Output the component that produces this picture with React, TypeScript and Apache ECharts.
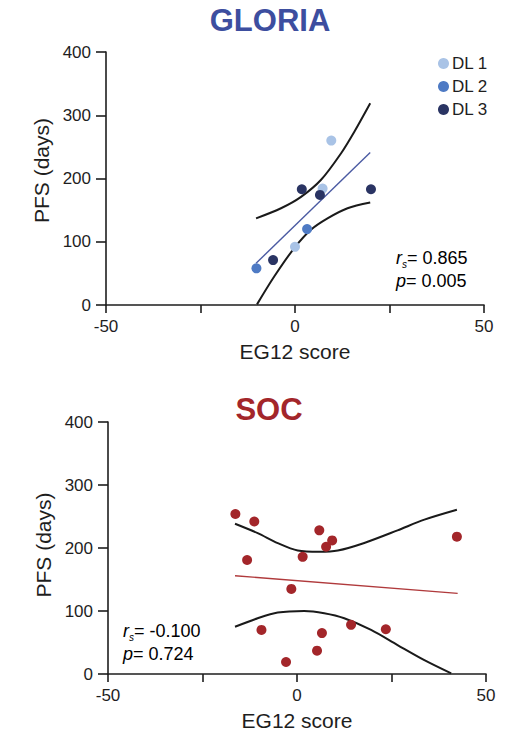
import React, { useEffect, useRef } from "react";
import * as echarts from "echarts";

// GLORIA data (EG12 score, PFS days)
const dl1X = [9.6, 7.3, 0];
const dl1Y = [260, 184, 92];
const dl2X = [-10.2, 3.2];
const dl2Y = [58, 120];
const dl3X = [-5.8, 1.8, 6.6, 20.1];
const dl3Y = [71, 183, 174, 183];
const gRegX = [-10.3, 19.9];
const gRegY = [66, 241];
const gUpX = [-10.3, -3.7, 1.6, 6.9, 12.2, 15.7, 19.9];
const gUpY = [137, 153, 171, 198, 240, 274, 319];
const gLoX = [-10.05, -5.5, -0.2, 4.2, 8.6, 13.9, 19.9];
const gLoY = [1, 45, 90, 119, 137, 153, 162];

// SOC data
const socX = [-16.3, -11.3, -13.2, -9.4, -2.9, -1.5, 1.5, 5.9, 7.7, 9.3, 6.6, 5.3, 14.3, 23.5, 42.3];
const socY = [254, 242, 181, 70, 19, 135, 186, 228, 202, 212, 65, 37, 78, 71, 218];
const sRegX = [-16.4, 42.5];
const sRegY = [156, 128];
const sUpX = [-16.4, -10.4, -5.1, 0.2, 5.9, 10.8, 17.8, 26.6, 33.7, 42.3];
const sUpY = [238.5, 223.6, 207.8, 196, 194, 196, 208, 228, 245, 260.7];
const sLoX = [-16.4, -10.4, -5.1, 1.9, 7.2, 12.5, 19.6, 26.6, 33.7, 40.8];
const sLoY = [75, 88.5, 97.5, 100, 96.5, 88.5, 70, 46, 22, 1];

const xTicks = [-50, 0, 50];
const legendNames = ["DL 1", "DL 2", "DL 3"];

const zip = (xs: number[], ys: number[]) => xs.map((x, i) => [x, ys[i]]);

const FONT = "Liberation Sans, Arial, sans-serif";
const AX = "#1e1e1e";

function xAxisCfg(gridIndex: number) {
  return {
    type: "value",
    gridIndex,
    min: -50,
    max: 50,
    interval: 25,
    name: "EG12 score",
    nameLocation: "middle",
    nameGap: 36,
    nameTextStyle: { fontSize: 21, color: AX, fontFamily: FONT },
    axisLine: { show: true, onZero: false, lineStyle: { color: AX, width: 1.6 } },
    axisTick: { show: true, length: 8, lineStyle: { color: AX, width: 1.6 } },
    axisLabel: {
      fontSize: 17,
      color: AX,
      fontFamily: FONT,
      margin: 13,
      formatter: (v: number) => (xTicks.includes(v) ? String(v) : ""),
    },
    splitLine: { show: false },
  };
}

function yAxisCfg(gridIndex: number, shift: number) {
  return {
    type: "value",
    gridIndex,
    min: 0,
    max: 400,
    interval: 100,
    name: "PFS (days)",
    nameLocation: "middle",
    nameGap: 53,
    nameTextStyle: { fontSize: 21, color: AX, fontFamily: FONT, padding: [0, 0, 0, shift] },
    axisLine: { show: true, onZero: false, lineStyle: { color: AX, width: 1.6 } },
    axisTick: { show: true, length: 10, lineStyle: { color: AX, width: 1.6 } },
    axisLabel: { fontSize: 17, color: AX, fontFamily: FONT, margin: 15 },
    splitLine: { show: false },
  };
}

function lineSeries(data: number[][], idx: number, color: string, width: number, smooth: number | boolean) {
  return {
    type: "line",
    xAxisIndex: idx,
    yAxisIndex: idx,
    data,
    showSymbol: false,
    symbol: "none",
    smooth,
    lineStyle: { color, width },
    silent: true,
    z: 2,
  };
}

function statText(x: number, y: number, rVal: string, pVal: string) {
  const rich = {
    i: { fontFamily: FONT, fontSize: 18, fontStyle: "italic", color: AX, lineHeight: 23 },
    n: { fontFamily: FONT, fontSize: 18, color: AX, lineHeight: 23 },
    sub: { fontFamily: FONT, fontSize: 10, fontStyle: "italic", color: AX, lineHeight: 23, padding: [13, 0, 0, 0] },
  };
  return [
    {
      type: "text",
      left: x,
      top: y,
      style: {
        text: `{i|r}{sub|s}{n|${rVal}}\n{i|p}{n|${pVal}}`,
        rich,
      },
    },
  ];
}

export default function App() {
  const ref = useRef<HTMLDivElement>(null);
  useEffect(() => {
    if (!ref.current) return;
    const chart = echarts.init(ref.current, null, { renderer: "svg" });
    const c1 = "#A9C3E6";
    const c2 = "#4E7AC4";
    const c3 = "#2A3463";
    const red = "#A3262A";
    chart.setOption({
      animation: false,
      backgroundColor: "#ffffff",
      textStyle: { fontFamily: FONT },
      title: [
        {
          text: "GLORIA",
          left: 265,
          top: 0,
          textAlign: "center",
          textStyle: { fontSize: 31, fontWeight: "bold", color: "#3D4E9F", fontFamily: FONT },
        },
        {
          text: "SOC",
          left: 264,
          top: 389,
          textAlign: "center",
          textStyle: { fontSize: 31, fontWeight: "bold", color: "#A3262A", fontFamily: FONT },
        },
      ],
      legend: {
        data: legendNames,
        orient: "vertical",
        left: 433,
        top: 50,
        icon: "circle",
        itemWidth: 11,
        itemHeight: 11,
        itemGap: 6,
        textStyle: { fontSize: 17, color: AX, fontFamily: FONT, padding: [0, 0, 0, -2] },
      },
      grid: [
        { left: 106, right: 37, top: 52, bottom: 427 },
        { left: 108, right: 35, top: 422, bottom: 58 },
      ],
      xAxis: [xAxisCfg(0), xAxisCfg(1)],
      yAxis: [yAxisCfg(0, 16), yAxisCfg(1, 6)],
      series: [
        lineSeries(zip(gUpX, gUpY), 0, "#1a1a1a", 2, 0.3),
        lineSeries(zip(gLoX, gLoY), 0, "#1a1a1a", 2, 0.3),
        lineSeries(zip(gRegX, gRegY), 0, "#4A5AA2", 1.4, false),
        {
          name: "DL 1",
          type: "scatter",
          data: zip(dl1X, dl1Y),
          symbolSize: 10,
          itemStyle: { color: c1, opacity: 1 },
          z: 3,
        },
        {
          name: "DL 2",
          type: "scatter",
          data: zip(dl2X, dl2Y),
          symbolSize: 10,
          itemStyle: { color: c2, opacity: 1 },
          z: 3,
        },
        {
          name: "DL 3",
          type: "scatter",
          data: zip(dl3X, dl3Y),
          symbolSize: 10,
          itemStyle: { color: c3, opacity: 1 },
          z: 3,
        },
        lineSeries(zip(sUpX, sUpY), 1, "#1a1a1a", 2, 0.3),
        lineSeries(zip(sLoX, sLoY), 1, "#1a1a1a", 2, 0.3),
        lineSeries(zip(sRegX, sRegY), 1, "#B03A3C", 1.4, false),
        {
          name: "SOC",
          type: "scatter",
          xAxisIndex: 1,
          yAxisIndex: 1,
          data: zip(socX, socY),
          symbolSize: 10,
          itemStyle: { color: red, opacity: 1 },
          z: 3,
        },
      ],
      graphic: [...statText(396, 246, "= 0.865", "= 0.005"), ...statText(123, 619, "= -0.100", "= 0.724")],
    });
    return () => chart.dispose();
  }, []);
  return <div ref={ref} style={{ position: "absolute", left: 0, top: 0, width: 521, height: 732 }} />;
}
